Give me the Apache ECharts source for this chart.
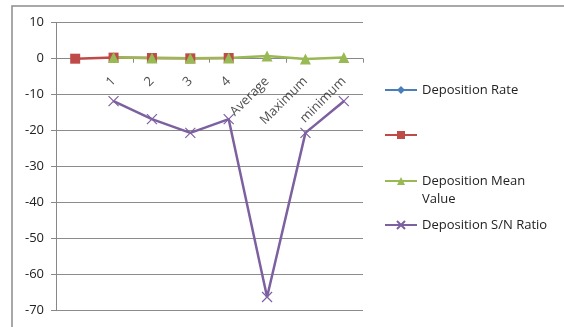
<!DOCTYPE html>
<html>
<head>
<meta charset="utf-8">
<style>
  html, body { margin: 0; padding: 0; background: #fff; }
  #chart { width: 564px; height: 327px; }
</style>
<script src="https://cdn.jsdelivr.net/npm/echarts@6/dist/echarts.min.js"></script>
</head>
<body>
<div id="chart"></div>
<script>
// Category labels along the zero line
const categories = ['', '1', '2', '3', '4', 'Average', 'Maximum', 'minimum'];

// Series values (null = no point)
const depositionRate = [null, null, null, null, null, null, null, null];
const unnamedSeries = [0, 0.3, 0.2, 0.1, 0.2, null, null, null];
const depositionMean = [null, 0.3, 0.2, 0.1, 0.2, 0.75, -0.1, 0.3];
const depositionSN = [null, -11.8, -16.8, -20.6, -16.8, -66.2, -20.6, -11.8];

// Anchor row for the category names, which sit just under the zero line
const labelBaseline = [0, 0, 0, 0, 0, 0, 0, 0];

// Value axis ticks
const yMin = -70, yMax = 10, yStep = 10;

const FONT = 'Open Sans';
const crossPath = 'path://M0,0L10,10M10,0L0,10';

const chart = echarts.init(document.getElementById('chart'));

function legendItem(name, top, text) {
  return {
    left: 384, top: top, orient: 'vertical', padding: 0,
    itemWidth: 32, itemHeight: 10,
    data: [name],
    selectedMode: false,
    formatter: text !== undefined ? () => text : undefined,
    textStyle: { fontFamily: FONT, fontSize: 13, color: '#222', lineHeight: 18 }
  };
}

chart.setOption({
  animation: false,
  graphic: [{
    type: 'rect', shape: { x: 12, y: 6, width: 600, height: 400 },
    style: { fill: 'none', stroke: '#8c8c8c', lineWidth: 1.5 }, silent: true, z: -1
  }],
  grid: { left: 56, right: 201, top: 22.7, bottom: 16.3, outerBoundsMode: 'none' },
  legend: [
    legendItem('Deposition Rate', 81),
    legendItem(' ', 126),
    // leading blank line keeps the icon level with the first text line
    legendItem('Deposition Mean Value', 154, '\nDeposition Mean\nValue'),
    legendItem('Deposition S/N Ratio', 216)
  ],
  xAxis: {
    type: 'category', data: categories, boundaryGap: true,
    axisLine: { onZero: true, lineStyle: { color: '#888', width: 1 } },
    axisTick: { show: true, length: 4, lineStyle: { color: '#888' } },
    axisLabel: { show: false },
    splitLine: { show: false }
  },
  yAxis: {
    type: 'value', min: yMin, max: yMax, interval: yStep,
    axisLine: { show: true, lineStyle: { color: '#888', width: 1 } },
    axisTick: { show: true, length: 5, inside: false, lineStyle: { color: '#888' } },
    axisLabel: { fontFamily: FONT, fontSize: 13, color: '#222', margin: 12 },
    splitLine: { lineStyle: { color: '#8c8c8c', width: 1 } }
  },
  series: [
    {
      name: 'Deposition Rate', type: 'line', data: depositionRate,
      symbol: 'diamond', symbolSize: 9,
      lineStyle: { color: '#4a7ebb', width: 2.5 }, itemStyle: { color: '#4a7ebb' }
    },
    {
      name: ' ', type: 'line', data: unnamedSeries,
      symbol: 'rect', symbolSize: 10,
      lineStyle: { color: '#be4b48', width: 2.5 }, itemStyle: { color: '#be4b48' }
    },
    {
      name: 'Deposition Mean Value', type: 'line', data: depositionMean,
      symbol: 'triangle', symbolSize: 11,
      lineStyle: { color: '#98b954', width: 2.5 }, itemStyle: { color: '#98b954' }
    },
    {
      name: 'Deposition S/N Ratio', type: 'line', data: depositionSN,
      symbol: crossPath, symbolSize: 10,
      lineStyle: { color: '#7d60a0', width: 2.5 },
      itemStyle: { color: '#7d60a0', borderColor: '#7d60a0', borderWidth: 1.2 }
    },
    {
      // category names, rotated, hanging under the zero line
      name: 'categoryLabels', type: 'scatter', data: labelBaseline,
      symbol: 'circle', symbolSize: 1, silent: true, z: 1,
      itemStyle: { color: 'rgba(0,0,0,0)' },
      label: {
        show: true, position: 'bottom', distance: 20, rotate: 45,
        align: 'right', verticalAlign: 'middle', offset: [0, 0],
        fontFamily: FONT, fontSize: 13, color: '#222',
        formatter: p => categories[p.dataIndex]
      }
    }
  ]
});
</script>
</body>
</html>
